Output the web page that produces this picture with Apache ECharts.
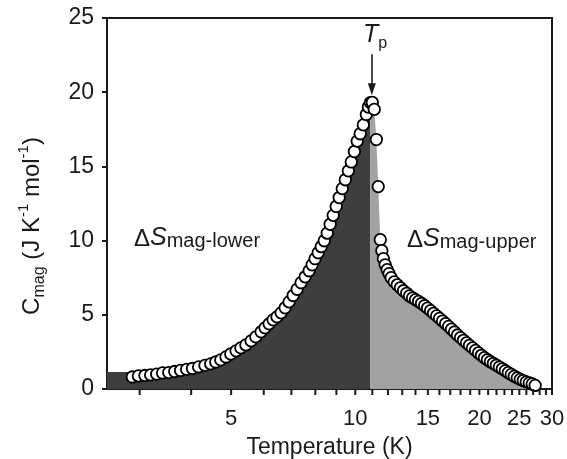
<!DOCTYPE html>
<html>
<head>
<meta charset="utf-8">
<script src="https://cdn.jsdelivr.net/npm/echarts@6/dist/echarts.min.js"></script>
<style>
html,body{margin:0;padding:0;background:#fff;}
#chart{width:567px;height:459px;}
</style>
</head>
<body>
<div id="chart"></div>
<script>
// Lower branch (T < Tp)
const tempLower = [2.88,2.98,3.09,3.19,3.30,3.41,3.53,3.65,3.77,3.90,4.03,4.17,4.32,4.46,4.59,4.72,4.86,4.99,5.14,5.28,5.43,5.59,5.74,5.91,6.04,6.18,6.32,6.46,6.61,6.76,6.91,7.07,7.23,7.39,7.56,7.73,7.86,7.99,8.13,8.27,8.41,8.55,8.69,8.84,8.99,9.14,9.30,9.46,9.62,9.78,9.95,10.11,10.28,10.46,10.64,10.76,10.88];
const cmagLower = [0.81,0.88,0.91,0.95,1.00,1.08,1.11,1.18,1.25,1.32,1.38,1.49,1.59,1.69,1.82,1.96,2.16,2.36,2.57,2.77,2.97,3.24,3.51,3.85,4.12,4.39,4.66,4.86,5.13,5.47,5.87,6.30,6.72,7.16,7.56,7.97,8.37,8.78,9.18,9.59,9.99,10.5,11.1,11.7,12.3,12.9,13.5,14.1,14.7,15.3,16.0,16.7,17.2,17.8,18.5,19.0,19.3];
// Upper branch (T > Tp)
const tempUpper = [11.00,11.12,11.25,11.37,11.50,11.60,11.70,11.82,11.95,12.08,12.22,12.43,12.64,12.87,13.09,13.33,13.54,13.77,14.00,14.24,14.48,14.73,14.97,15.23,15.48,15.75,16.01,16.28,16.56,16.84,17.12,17.41,17.70,18.00,18.30,18.61,18.92,19.24,19.57,19.90,20.23,20.57,20.92,21.27,21.62,21.99,22.36,22.73,23.12,23.50,23.90,24.30,24.71,25.13,25.55,25.98,26.42,26.86,27.31];
const cmagUpper = [19.31,18.84,16.81,13.64,10.06,9.32,8.78,8.37,8.04,7.77,7.50,7.22,7.02,6.82,6.62,6.45,6.27,6.14,6.02,5.90,5.76,5.61,5.45,5.28,5.10,4.93,4.76,4.58,4.40,4.22,4.03,3.84,3.64,3.46,3.28,3.11,2.94,2.77,2.60,2.43,2.27,2.11,1.97,1.84,1.72,1.60,1.48,1.36,1.23,1.10,0.98,0.86,0.75,0.65,0.57,0.48,0.41,0.34,0.24];
// Extension of the lower shaded area to the left edge
const lowerFillStart = [[2.5, 1.15], [2.88, 1.15]];
// Tp arrow (T, top C, bottom C)
const tpArrow = {t: 10.97, from: 22.55, to: 20.2};
// Axis ticks
const xTickValues = [3,4,5,6,7,8,9,10,11,12,13,14,15,16,17,18,19,20,21,22,23,24,25,26,27,28,29,30];
const xTickLabels = [5,10,15,20,25,30];
const yTicks = [0,5,10,15,20,25];

const lower = tempLower.map((t, i) => [t, cmagLower[i]]);
const upper = tempUpper.map((t, i) => [t, cmagUpper[i]]);
const lowerFill = lowerFillStart.concat(lower);
const upperFill = [lower[lower.length - 1]].concat(upper);

const FONT = 'Liberation Sans, Arial, sans-serif';
const INK = '#1a1a1a';

const chart = echarts.init(document.getElementById('chart'), null, {renderer: 'canvas'});
chart.setOption({
  animation: false,
  backgroundColor: '#fff',
  textStyle: {fontFamily: FONT},
  grid: {left: 107, right: 15, top: 18, bottom: 70, show: true, borderColor: INK, borderWidth: 2,
    backgroundColor: 'transparent', containLabel: false, outerBoundsMode: 'none'},
  xAxis: {
    type: 'log', logBase: 10, min: 2.5, max: 30,
    axisLine: {show: false},
    axisTick: {show: false},
    axisLabel: {show: false},
    splitLine: {show: false},
    minorTick: {show: false},
    name: 'Temperature (K)', nameLocation: 'middle', nameGap: 47,
    nameTextStyle: {fontSize: 23, color: INK, fontFamily: FONT}
  },
  yAxis: {
    type: 'value', min: 0, max: 25, interval: 5,
    axisLine: {show: true, lineStyle: {color: INK, width: 2}},
    axisTick: {show: true, length: 5, lineStyle: {color: INK, width: 2}},
    axisLabel: {fontSize: 23, color: INK, margin: 13, fontFamily: FONT},
    splitLine: {show: false}
  },
  series: [
    {
      type: 'line', data: lowerFill, showSymbol: false, symbol: 'none',
      lineStyle: {width: 0}, areaStyle: {color: '#3e3e3e', opacity: 1}, z: 1, silent: true
    },
    {
      type: 'line', data: upperFill, showSymbol: false, symbol: 'none',
      lineStyle: {width: 0}, areaStyle: {color: '#a2a2a2', opacity: 1}, z: 1, silent: true
    },
    {
      type: 'scatter', data: lower.concat(upper), symbol: 'circle', symbolSize: 11.5,
      itemStyle: {color: '#fff', borderColor: '#000', borderWidth: 1.8, opacity: 1}, z: 3,
      markLine: {
        silent: true, symbol: ['none', 'triangle'], symbolSize: [8, 12],
        lineStyle: {color: INK, width: 1.6, type: 'solid'}, label: {show: false},
        data: [[{coord: [tpArrow.t, tpArrow.from]}, {coord: [tpArrow.t, tpArrow.to]}]]
      }
    },
    {
      type: 'custom', coordinateSystem: 'cartesian2d', clip: false, silent: true, z: 4,
      data: xTickValues.map(v => [v, 0]),
      renderItem: function (params, api) {
        const v = api.value(0);
        const p = api.coord([v, 0]);
        const children = [{
          type: 'line', shape: {x1: p[0], y1: p[1], x2: p[0], y2: p[1] + 6},
          style: {stroke: INK, lineWidth: 2}
        }];
        if (xTickLabels.indexOf(v) >= 0) {
          children.push({
            type: 'text',
            style: {text: String(v), x: p[0], y: p[1] + 19, align: 'center', verticalAlign: 'top',
              font: '22px ' + FONT, fill: INK}
          });
        }
        return {type: 'group', children: children};
      }
    }
  ],
  graphic: [
    {
      type: 'text', x: 32, y: 226, rotation: Math.PI / 2,
      style: {
        text: '{n|C}{sub|mag}{n| (J K}{sup|-1}{n| mol}{sup|-1}{n|)}',
        align: 'center', verticalAlign: 'middle', fill: INK,
        rich: {
          n: {fontSize: 24, fontFamily: FONT, lineHeight: 32, verticalAlign: 'middle', fill: INK},
          sub: {fontSize: 16, fontFamily: FONT, lineHeight: 32, verticalAlign: 'bottom', fill: INK},
          sup: {fontSize: 15, fontFamily: FONT, lineHeight: 32, verticalAlign: 'top', fill: INK}
        }
      }
    },
    {
      type: 'text', left: 134, top: 226,
      style: {
        text: '{d|\u0394}{s|S}{m|mag-lower}', fill: INK,
        rich: {
          d: {fontSize: 24, fontFamily: FONT, verticalAlign: 'bottom', fill: INK},
          s: {fontSize: 25, fontFamily: FONT, fontStyle: 'italic', verticalAlign: 'bottom', fill: INK},
          m: {fontSize: 20, fontFamily: FONT, verticalAlign: 'bottom', fill: INK}
        }
      }
    },
    {
      type: 'text', left: 407, top: 227,
      style: {
        text: '{d|\u0394}{s|S}{m|mag-upper}', fill: INK,
        rich: {
          d: {fontSize: 24, fontFamily: FONT, verticalAlign: 'bottom', fill: INK},
          s: {fontSize: 25, fontFamily: FONT, fontStyle: 'italic', verticalAlign: 'bottom', fill: INK},
          m: {fontSize: 20, fontFamily: FONT, verticalAlign: 'bottom', fill: INK}
        }
      }
    },
    {
      type: 'text', left: 363, top: 23,
      style: {
        text: '{t|T}{p|p}', fill: INK,
        rich: {
          t: {fontSize: 25, fontFamily: FONT, fontStyle: 'italic', lineHeight: 32, verticalAlign: 'middle', fill: INK},
          p: {fontSize: 16, fontFamily: FONT, lineHeight: 32, verticalAlign: 'bottom', fill: INK}
        }
      }
    }
  ]
});
</script>
</body>
</html>
